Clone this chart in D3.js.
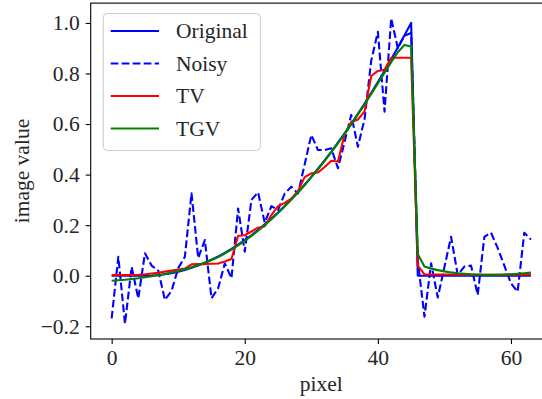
<!DOCTYPE html>
<html>
<head>
<meta charset="utf-8">
<script src="https://cdn.jsdelivr.net/npm/d3@7"></script>
<style>
body { margin:0; background:#fff; }
svg text { font-family:"Liberation Serif","DejaVu Serif",serif; fill:#262626; }
</style>
</head>
<body>
<svg id="chart" width="542" height="399"></svg>
<script>
// data (64 pixels)
var pixels = d3.range(64);
var original = [0,0,0,0,0,0,0.001,0.003,0.006,0.010,
	0.016,0.023,0.031,0.040,0.051,0.063,0.076,0.090,0.106,0.123,
	0.141,0.160,0.181,0.203,0.226,0.250,0.276,0.303,0.331,0.360,
	0.391,0.423,0.456,0.490,0.526,0.563,0.601,0.640,0.681,0.723,
	0.766,0.810,0.856,0.903,0.951,1.000,0,0,0,0,
	0,0,0,0,0,0,0,0,0,0,
	0,0,0,0];
var noisy = [-0.169,0.075,-0.190,0.035,-0.090,0.089,0.040,0.020,-0.096,-0.060,
	0.030,0.075,0.326,0.070,0.141,-0.089,-0.050,0.049,-0.010,0.266,
	0.095,0.300,0.330,0.210,0.275,0.260,0.325,0.352,0.325,0.440,
	0.557,0.497,0.497,0.504,0.425,0.530,0.636,0.510,0.620,0.850,
	0.965,0.649,1.018,0.900,0.950,0.960,0.060,-0.162,0.049,-0.086,
	0.034,0.154,0.003,0.036,0.040,-0.076,0.154,0.170,0.110,0.040,
	-0.030,-0.063,0.170,0.143];
var tv = [0.003,0.003,0.003,0.003,0.004,0.006,0.009,0.012,0.016,0.020,
	0.024,0.028,0.045,0.046,0.046,0.047,0.048,0.056,0.066,0.158,
	0.160,0.175,0.190,0.196,0.240,0.275,0.288,0.305,0.335,0.390,
	0.405,0.408,0.430,0.455,0.452,0.560,0.608,0.618,0.650,0.790,
	0.810,0.815,0.862,0.862,0.862,0.862,0.040,0.005,0.005,0.005,
	0.005,0.005,0.004,0.004,0.004,0.004,0.004,0.004,0.004,0.004,
	0.004,0.004,0.004,0.004];
var tgv = [-0.020,-0.018,-0.016,-0.013,-0.010,-0.006,-0.002,0.002,0.007,0.013,
	0.019,0.026,0.033,0.042,0.051,0.062,0.074,0.088,0.103,0.120,
	0.138,0.157,0.178,0.200,0.223,0.248,0.274,0.301,0.329,0.359,
	0.390,0.421,0.454,0.489,0.524,0.561,0.599,0.638,0.678,0.719,
	0.761,0.803,0.845,0.884,0.913,0.907,0.085,0.036,0.028,0.022,
	0.017,0.013,0.010,0.008,0.006,0.005,0.004,0.004,0.004,0.005,
	0.006,0.008,0.010,0.012];
var seriesNames = ["Original","Noisy","TV","TGV"];
var seriesColors = ["#0000ff","#0000ff","#ff0000","#008000"];
var seriesDash = [null,"7.7,3.3",null,null];
var xTicks = [0,20,40,60];
var yTicks = [-0.2,0,0.2,0.4,0.6,0.8,1.0];

var allSeries = [original,noisy,tv,tgv];

// axes box (right side runs past the picture edge, like the reference)
var boxLeft = 90.7, boxTop = 3.1, plotW = 461.2, plotH = 335.9;

var xext = d3.extent(pixels), xpad = (xext[1]-xext[0])*0.05;
var yext = d3.extent(d3.merge(allSeries)), ypad = (yext[1]-yext[0])*0.05;

var x = d3.scaleLinear().domain([xext[0]-xpad, xext[1]+xpad]).range([boxLeft, boxLeft+plotW]);
var y = d3.scaleLinear().domain([yext[0]-ypad, yext[1]+ypad]).range([boxTop+plotH, boxTop]);

var svg = d3.select("#chart");

svg.append("defs").append("clipPath").attr("id","clip")
	.append("rect").attr("x",boxLeft).attr("y",boxTop).attr("width",plotW).attr("height",plotH);

var line = d3.line().x(function(d,i){return x(pixels[i]);}).y(function(d){return y(d);});

svg.append("g").attr("clip-path","url(#clip)")
	.selectAll("path")
	.data(allSeries)
	.enter()
	.append("path")
	.attr("d", line)
	.attr("fill","none")
	.attr("stroke", function(d,i){return seriesColors[i];})
	.attr("stroke-width",2.1)
	.attr("stroke-dasharray", function(d,i){return seriesDash[i];})
	.attr("stroke-linejoin","round");

// axes
var fmt = function(d){ return d3.format(".1f")(d).replace("-","\u2212"); };

var xAxis = svg.append("g")
	.attr("transform","translate(0,"+(boxTop+plotH)+")")
	.call(d3.axisBottom(x).tickValues(xTicks).tickSize(5).tickPadding(6));
var yAxis = svg.append("g")
	.attr("transform","translate("+boxLeft+",0)")
	.call(d3.axisLeft(y).tickValues(yTicks).tickSize(5).tickPadding(6).tickFormat(fmt));

[xAxis,yAxis].forEach(function(a){
	a.select(".domain").remove();
	a.selectAll("line").attr("stroke","#000").attr("stroke-width",1.1);
	a.selectAll("text").style("font-family","Liberation Serif").style("font-size","21.5px").attr("fill","#262626");
});

// frame
svg.append("rect")
	.attr("x",boxLeft).attr("y",boxTop).attr("width",plotW).attr("height",plotH)
	.attr("fill","none").attr("stroke","#000").attr("stroke-width",1.1);

svg.append("text")
	.attr("x", boxLeft+plotW/2).attr("y",390.5)
	.attr("text-anchor","middle")
	.style("font-size","21.5px")
	.text("pixel");

svg.append("text")
	.attr("transform","translate(29,"+(boxTop+plotH/2)+") rotate(-90)")
	.attr("text-anchor","middle")
	.style("font-size","21.5px")
	.text("image value");

// legend
var legend = svg.append("g");
legend.append("rect")
	.attr("x",103.3).attr("y",13.5).attr("width",157).attr("height",137)
	.attr("rx",4).attr("ry",4)
	.attr("fill","#fff").attr("fill-opacity",0.8)
	.attr("stroke","#cccccc").attr("stroke-width",1);

var item = legend.selectAll(".item")
	.data(seriesNames)
	.enter()
	.append("g")
	.attr("class","item")
	.attr("transform",function(d,i){return "translate(0,"+(31+i*32.5)+")";});
item.append("line")
	.attr("x1",110.7).attr("x2",159).attr("y1",0).attr("y2",0)
	.attr("stroke",function(d,i){return seriesColors[i];})
	.attr("stroke-width",2.1)
	.attr("stroke-dasharray",function(d,i){return seriesDash[i];});
item.append("text")
	.attr("x",176).attr("y",0).attr("dy","0.33em")
	.style("font-size","21.5px")
	.text(function(d){return d;});
</script>
</body>
</html>
